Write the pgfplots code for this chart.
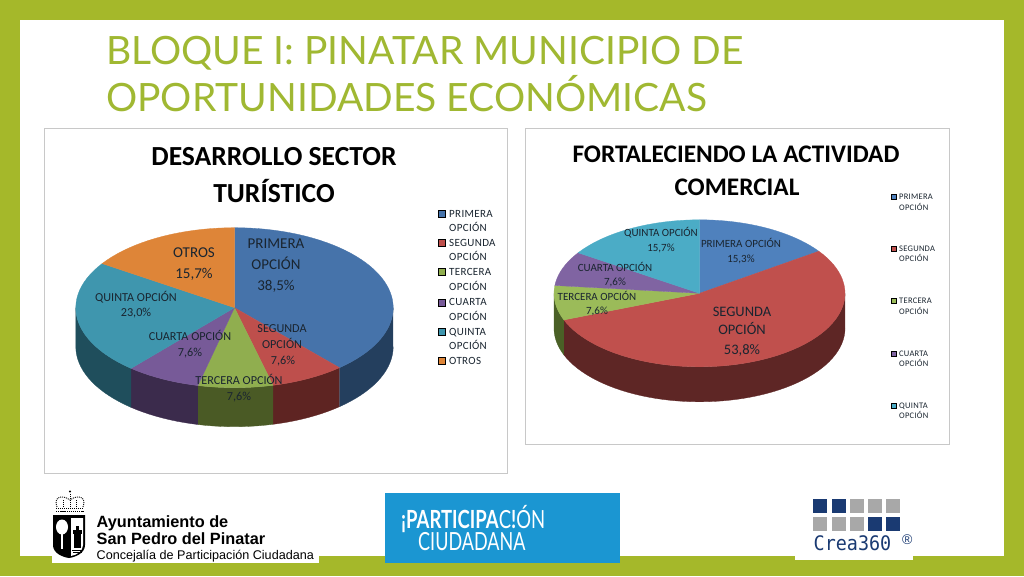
\documentclass[border=0pt]{standalone}
\usepackage{fontspec}
\usepackage{pgfplots}
\pgfplotsset{compat=1.18}
\setmainfont{Carlito}
\newfontfamily\titlef{Lato}
\newfontfamily\arialf{Liberation Sans}
\newfontfamily\monof{DejaVu Sans Mono}
\definecolor{olive}{HTML}{A5B82A}
\definecolor{titleol}{HTML}{A0B832}
\definecolor{frameg}{HTML}{C8C8C8}
\definecolor{ablue}{HTML}{4673AA}\definecolor{ablueD}{HTML}{243F5E}
\definecolor{ared}{HTML}{BE4F4C}\definecolor{aredD}{HTML}{5E2422}
\definecolor{agreen}{HTML}{90AE4F}\definecolor{agreenD}{HTML}{4A5A25}
\definecolor{apurple}{HTML}{775A98}\definecolor{apurpleD}{HTML}{3B2B4C}
\definecolor{ateal}{HTML}{3F96AE}\definecolor{atealD}{HTML}{1F4E5C}
\definecolor{aorange}{HTML}{DE8538}
\definecolor{bblue}{HTML}{4F81BD}
\definecolor{bred}{HTML}{C0504D}\definecolor{bredD}{HTML}{5E2625}
\definecolor{bgreen}{HTML}{9BBB59}\definecolor{bgreenD}{HTML}{4A6026}
\definecolor{bpurple}{HTML}{8064A2}
\definecolor{bteal}{HTML}{4BACC6}
\definecolor{txt}{HTML}{1A2530}
\definecolor{navy}{HTML}{1A3A72}
\definecolor{crgray}{HTML}{A8A8A8}
\definecolor{pblue}{HTML}{1B96D2}
% arc of a pie rim, appended to \pts
\newcommand{\arcto}[6]{%
  \pgfmathtruncatemacro\nn{max(2,ceil(abs(#6-#5)/3))}%
  \foreach \i in {0,...,\nn}{%
    \pgfmathsetmacro\t{#5+(#6-#5)*\i/\nn}%
    \pgfmathsetmacro\px{#1+#3*sin(\t)}%
    \pgfmathsetmacro\py{#2-#4*cos(\t)}%
    \xdef\pts{\pts(\px,\py)}%
  }}
% pie geometry: centre x, centre y, rx, ry, depth
\newcommand{\setpie}[5]{\gdef\Cx{#1}\gdef\Cy{#2}\gdef\Rx{#3}\gdef\Ry{#4}\gdef\Dp{#5}\gdef\cum{0}}
% one slice of a pie: share in percent, top colour
\newcommand{\topslice}[2]{%
  \pgfmathsetmacro\A{\cum*3.6}\pgfmathsetmacro\B{(\cum+#1)*3.6}%
  \xdef\pts{(\Cx,\Cy)}%
  \arcto{\Cx}{\Cy}{\Rx}{\Ry}{\A}{\B}%
  \edef\cmd{\noexpand\addplot[fill=#2,draw=#2,line width=.3pt,mark=none,forget plot] coordinates {\pts(\Cx,\Cy)};}\cmd
  \pgfmathsetmacro\newcum{\cum+#1}\xdef\cum{\newcum}}
% the visible rim of a slice: share in percent, rim colour
\newcommand{\sideslice}[2]{%
  \pgfmathsetmacro\A{max(\cum*3.6,90)}\pgfmathsetmacro\B{min((\cum+#1)*3.6,270)}%
  \pgfmathtruncatemacro\vis{\A<\B ? 1 : 0}%
  \ifnum\vis=1
    \xdef\pts{}%
    \arcto{\Cx}{\Cy}{\Rx}{\Ry}{\A}{\B}%
    \pgfmathsetmacro\Cyb{\Cy+\Dp}%
    \arcto{\Cx}{\Cyb}{\Rx}{\Ry}{\B}{\A}%
    \edef\cmd{\noexpand\addplot[fill=#2,draw=#2,line width=.3pt,mark=none,forget plot] coordinates {\pts};}\cmd
  \fi
  \pgfmathsetmacro\newcum{\cum+#1}\xdef\cum{\newcum}}
\newcommand{\legmark}[4]{\addplot[only marks,mark=square*,mark size=#4pt,mark options={fill=#3,draw=none},forget plot] coordinates {(#1,#2)};}
% text: x, y centre, size, text
\newcommand{\lab}[4]{\node[inner sep=0,anchor=base,text=txt,font=\fontsize{#3}{#3}\selectfont] at ({#1},{#2+0.31*#3}) {#4};}
\newcommand{\leg}[4]{\node[inner sep=0,anchor=base west,text=txt,font=\fontsize{#3}{#3}\selectfont] at ({#1},{#2+0.31*#3}) {\addfontfeatures{LetterSpace=3}#4};}
\begin{document}
\begin{tikzpicture}
\begin{scope}[x=1pt,y=-1pt,yshift=576pt]
  \fill[olive] (0,0) rectangle (1024,576);
  \fill[white] (20,20) rectangle (1004,556);
  \fill[white] (51.5,550) rectangle (319,563);
  \fill[white] (795,550) rectangle (913,560);
  \filldraw[fill=white,draw=frameg,line width=1pt] (44.5,128.5) rectangle (507,473);
  \filldraw[fill=white,draw=frameg,line width=1pt] (525.5,128.5) rectangle (949,444);
\end{scope}
\begin{axis}[at={(0pt,0pt)},anchor=south west,scale only axis,width=1024pt,height=576pt,
  xmin=0,xmax=1024,ymin=0,ymax=576,y dir=reverse,hide axis,clip=false]
  % left pie
  \setpie{234.5}{307.7}{158.7}{80}{39}
  \sideslice{38.5}{ablueD}\sideslice{7.6}{aredD}\sideslice{7.6}{agreenD}
  \sideslice{7.6}{apurpleD}\sideslice{23.0}{atealD}\sideslice{15.7}{aorange}
  \setpie{234.5}{307.7}{158.7}{80}{39}
  \topslice{38.5}{ablue}\topslice{7.6}{ared}\topslice{7.6}{agreen}
  \topslice{7.6}{apurple}\topslice{23.0}{ateal}\topslice{15.7}{aorange}
  % right pie
  \setpie{699.5}{293.3}{145.5}{73.5}{35}
  \sideslice{15.3}{bblue}\sideslice{53.8}{bredD}\sideslice{7.6}{bgreenD}
  \sideslice{7.6}{bpurple}\sideslice{15.7}{bteal}
  \setpie{699.5}{293.3}{145.5}{73.5}{35}
  \topslice{15.3}{bblue}\topslice{53.8}{bred}\topslice{7.6}{bgreen}
  \topslice{7.6}{bpurple}\topslice{15.7}{bteal}
  % legends
  \legmark{442}{214}{ablue}{3.5}\legmark{442}{243}{ared}{3.5}\legmark{442}{272}{agreen}{3.5}
  \legmark{442}{303}{apurple}{3.5}\legmark{442}{332}{ateal}{3.5}\legmark{442}{361}{aorange}{3.5}
  \legmark{894}{197}{bblue}{2.5}\legmark{894}{249}{bred}{2.5}\legmark{894}{301}{bgreen}{2.5}
  \legmark{894}{354}{bpurple}{2.5}\legmark{894}{406}{bteal}{2.5}
\end{axis}
\begin{scope}[x=1pt,y=-1pt,yshift=576pt]
  % slide title
  \node[inner sep=0,anchor=base west,text=titleol,font=\titlef\fontsize{39}{39}\selectfont] at (106,65) {BLOQUE I: PINATAR MUNICIPIO DE};
  \node[inner sep=0,anchor=base west,text=titleol,font=\titlef\fontsize{39}{39}\selectfont] at (106,112) {OPORTUNIDADES ECONÓMICAS};
  % chart titles
  \node[inner sep=0,anchor=base,font=\fontsize{27.6}{27.6}\selectfont\bfseries] at (274,166) {DESARROLLO SECTOR};
  \node[inner sep=0,anchor=base,font=\fontsize{27.6}{27.6}\selectfont\bfseries] at (274,202.5) {TURÍSTICO};
  \node[inner sep=0,anchor=base,font=\fontsize{25.3}{25.3}\selectfont\bfseries] at (736,162.5) {FORTALECIENDO LA ACTIVIDAD};
  \node[inner sep=0,anchor=base,font=\fontsize{25.3}{25.3}\selectfont\bfseries] at (737,195.5) {COMERCIAL};
  % left labels
  \lab{276}{244}{15}{PRIMERA}\lab{276}{265}{15}{OPCIÓN}\lab{276}{286}{15}{38,5\%}
  \lab{194}{253}{15}{OTROS}\lab{194}{274}{15}{15,7\%}
  \lab{136}{298}{12.2}{QUINTA OPCIÓN}\lab{136}{313}{12.2}{23,0\%}
  \lab{190}{337}{12.2}{CUARTA OPCIÓN}\lab{190}{353}{12.2}{7,6\%}
  \lab{282}{329}{12.2}{SEGUNDA}\lab{282}{345}{12.2}{OPCIÓN}\lab{283}{361}{12.2}{7,6\%}
  \lab{239}{381}{12.2}{TERCERA OPCIÓN}\lab{239}{397}{12.2}{7,6\%}
  % left legend
  \leg{449}{214}{11}{PRIMERA}\leg{449}{228}{11}{OPCIÓN}
  \leg{449}{243}{11}{SEGUNDA}\leg{449}{257}{11}{OPCIÓN}
  \leg{449}{272}{11}{TERCERA}\leg{449}{287}{11}{OPCIÓN}
  \leg{449}{302}{11}{CUARTA}\leg{449}{317}{11}{OPCIÓN}
  \leg{449}{332}{11}{QUINTA}\leg{449}{346}{11}{OPCIÓN}
  \leg{449}{361}{11}{OTROS}
  % right labels
  \lab{661}{233}{11}{QUINTA OPCIÓN}\lab{661}{248}{11}{15,7\%}
  \lab{741}{244}{11}{PRIMERA OPCIÓN}\lab{741}{259}{11}{15,3\%}
  \lab{615}{268}{11}{CUARTA OPCIÓN}\lab{615}{282}{11}{7,6\%}
  \lab{597}{297}{11}{TERCERA OPCIÓN}\lab{597}{311}{11}{7,6\%}
  \lab{742}{312}{14.5}{SEGUNDA}\lab{742}{330}{14.5}{OPCIÓN}\lab{742}{350}{14.5}{53,8\%}
  % right legend
  \leg{899}{197}{8.5}{PRIMERA}\leg{899}{208}{8.5}{OPCIÓN}
  \leg{899}{249}{8.5}{SEGUNDA}\leg{899}{259}{8.5}{OPCIÓN}
  \leg{899}{301}{8.5}{TERCERA}\leg{899}{312}{8.5}{OPCIÓN}
  \leg{899}{354}{8.5}{CUARTA}\leg{899}{364}{8.5}{OPCIÓN}
  \leg{899}{406}{8.5}{QUINTA}\leg{899}{416}{8.5}{OPCIÓN}
  % Ayuntamiento logo
  \fill[black] (53,515) -- (85,515) -- (85,545) .. controls (85,553) and (76,557) .. (69,558) .. controls (62,557) and (53,553) .. (53,545) -- cycle;
  \fill[white] (71,518) -- (83,518) -- (83,545) .. controls (83,551) and (77,555) .. (71,556) -- cycle;
  \fill[white] (62,527) ellipse (6 and 7.5);
  \fill[white] (61,530) rectangle (63,549);
  \fill[black] (74,533) rectangle (81,548);
  \fill[black] (76,526) rectangle (79,533);
  \fill[black] (73,530) rectangle (82,534);
  \draw[black,line width=.8pt] (72,550) -- (83,550) (73,552.5) -- (82,552.5);
  \draw[black,line width=1.6pt,dash pattern=on 1.3pt off .8pt] (56,511.5) -- (84,511.5);
  \draw[black,line width=.8pt,dash pattern=on 1pt off 1pt] (56,508) -- (84,508);
  \draw[black,line width=.9pt,dash pattern=on 1pt off 1pt] (57,507) .. controls (53,497) and (62,494) .. (70,500) .. controls (78,494) and (87,497) .. (83,507);
  \draw[black,line width=.9pt,dash pattern=on 1pt off 1pt] (63.5,507) -- (63.5,499) (76.5,507) -- (76.5,499) (70,507) -- (70,494);
  \fill[black] (70,491.5) circle (1.2);
  \node[inner sep=0,anchor=base west,font=\arialf\fontsize{16.3}{16.3}\selectfont\bfseries] at (96.5,527) {Ayuntamiento de};
  \node[inner sep=0,anchor=base west,font=\arialf\fontsize{16.3}{16.3}\selectfont\bfseries] at (96.5,544) {San Pedro del Pinatar};
  \node[inner sep=0,anchor=base west,font=\arialf\fontsize{12.6}{12.6}\selectfont] at (96.5,559) {Concejalía de Participación Ciudadana};
  % Participacion logo
  \fill[pblue] (385,492.5) rectangle (620,563);
  \node[inner sep=0,anchor=base west,text=white,font=\titlef\fontsize{25}{25}\selectfont] at (401,528) {\scalebox{.74}[1]{\bfseries ¡PARTICIPA}\scalebox{.74}[1]{C{\bfseries !}ÓN}};
  \node[inner sep=0,anchor=base west,text=white,font=\titlef\fontsize{25}{25}\selectfont] at (418,550) {\scalebox{.72}[1]{CIUDADANA}};
  % Crea360 logo
  \foreach \x/\c in {813/navy,831.5/navy,850/crgray,868/crgray,886/crgray}
    \fill[\c] (\x,499) rectangle ++(14,14);
  \foreach \x/\c in {813/crgray,831.5/crgray,850/crgray,868/navy,886/navy}
    \fill[\c] (\x,517) rectangle ++(14,14);
  \node[inner sep=0,anchor=base west,text=navy,font=\monof\fontsize{20}{20}\selectfont] at (813.5,550.5) {\scalebox{.92}[1]{Crea360}};
  \node[inner sep=0,anchor=base west,text=navy,font=\arialf\fontsize{14}{14}\selectfont] at (902,544) {®};
\end{scope}
\end{tikzpicture}
\end{document}
